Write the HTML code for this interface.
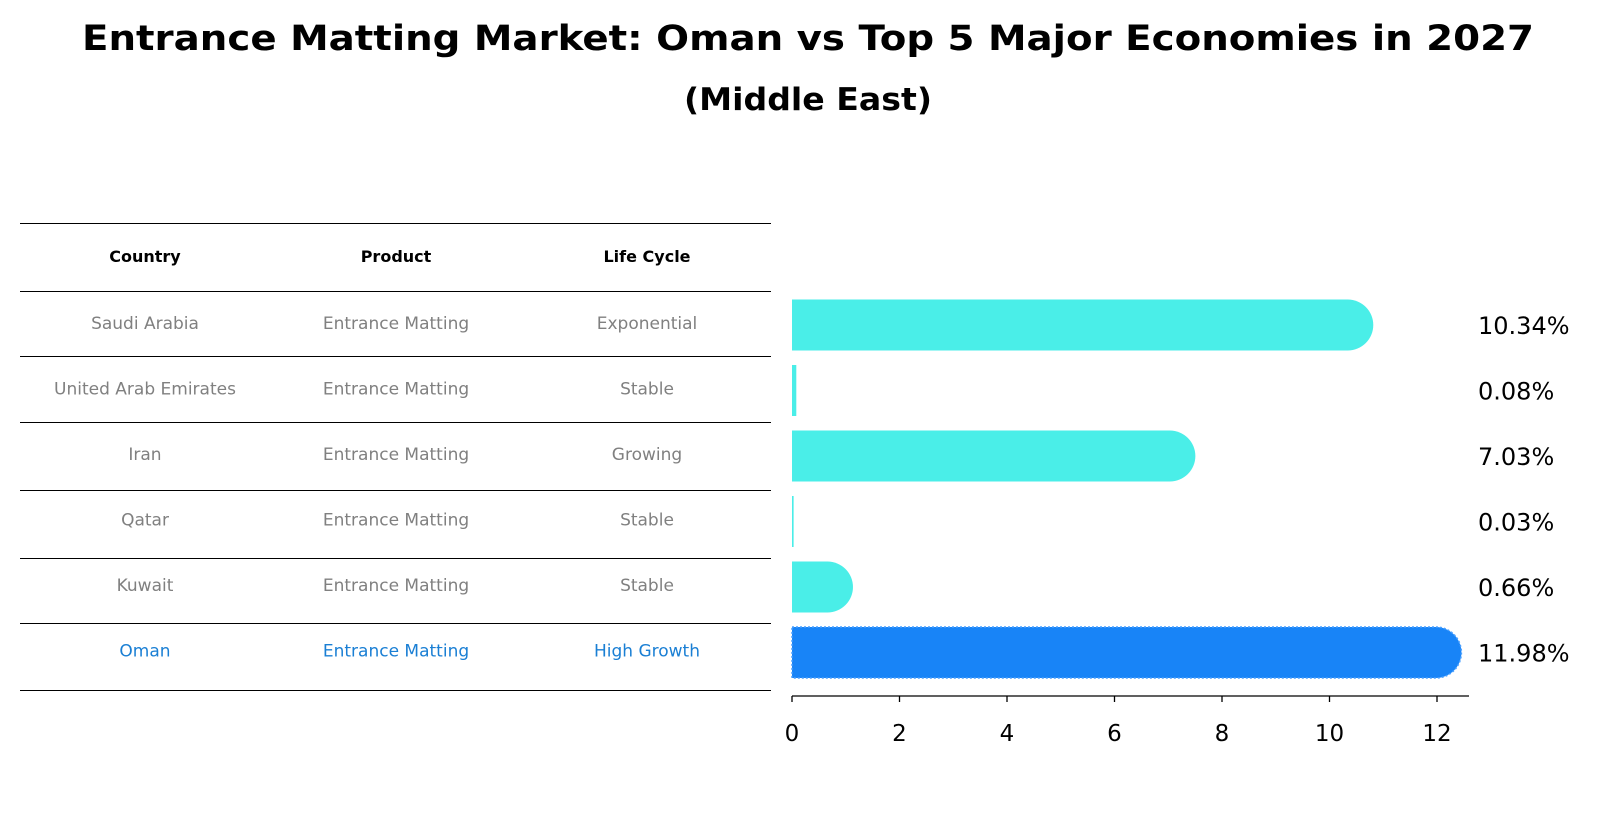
<!DOCTYPE html>
<html><head><meta charset="utf-8"><style>
body{margin:0;background:#fff;font-family:"Liberation Sans","DejaVu Sans",sans-serif;}
</style></head><body>
<svg width="1604" height="823" viewBox="0 0 1604 823" xmlns="http://www.w3.org/2000/svg" font-family="DejaVu Sans, Liberation Sans, sans-serif">
<text x="808" y="50" text-anchor="middle" font-size="35" font-weight="bold" textLength="1452" lengthAdjust="spacingAndGlyphs">Entrance Matting Market: Oman vs Top 5 Major Economies in 2027</text>
<text x="808" y="110" text-anchor="middle" font-size="31" font-weight="bold" textLength="248" lengthAdjust="spacingAndGlyphs">(Middle East)</text>
<g id="table"></g>
<g id="bars"></g>
</svg>
<script>
const countries=["Saudi Arabia","United Arab Emirates","Iran","Qatar","Kuwait","Oman"];
const products=["Entrance Matting","Entrance Matting","Entrance Matting","Entrance Matting","Entrance Matting","Entrance Matting"];
const lifecycles=["Exponential","Stable","Growing","Stable","Stable","High Growth"];
const values=[10.34,0.08,7.03,0.03,0.66,11.98];
const ticks=[0,2,4,6,8,10,12];
const NS="http://www.w3.org/2000/svg";
const x0=792,pxPerUnit=53.75;
const xs=v=>x0+v*pxPerUnit;
const rowY=i=>325+i*65.5;
function mk(tag,attrs,parent){const e=document.createElementNS(NS,tag);for(const k in attrs)e.setAttribute(k,attrs[k]);parent.appendChild(e);return e;}
const tb=document.getElementById('table');
const lines=[223,291,356,422,490,558,623,690];
lines.forEach(y=>{const l=mk('line',{x1:20,x2:771,y1:y+0.5,y2:y+0.5,stroke:'#000','stroke-width':1,'shape-rendering':'crispEdges'},tb);

});
const colX=[145,396,647];
["Country","Product","Life Cycle"].forEach((h,j)=>{const t=mk('text',{x:colX[j],y:262,'text-anchor':'middle','font-size':16,'font-weight':'bold'},tb);t.textContent=h;

});
countries.forEach((c,i)=>{const cells=[c,products[i],lifecycles[i]];const col=i===5?'#1a7fd4':'#808080';
cells.forEach((s,j)=>{const t=mk('text',{x:colX[j],y:rowY(i)+4,'text-anchor':'middle','font-size':17,fill:col},tb);t.textContent=s;

});});
const bg=document.getElementById('bars');
values.forEach((v,i)=>{const y=rowY(i),h=51,r=h/2;const w=xs(v)-x0;const isO=i===5;const fill=isO?'#1884f7':'#4aeee8';
const g=mk('g',{},bg);


if(v>0.3){mk('rect',{x:x0,y:y-r,width:w,height:h,fill:fill},g);mk('circle',{cx:xs(v),cy:y,r:r,fill:fill},g);}
else{mk('rect',{x:x0,y:y-r,width:Math.max(w,1.5),height:h,fill:fill},g);}
if(isO){mk('path',{d:`M${x0} ${y-r}H${xs(v)}A${r} ${r} 0 0 1 ${xs(v)} ${y+r}H${x0}Z`,fill:'none',stroke:'#4aa0ff','stroke-width':1.5,'stroke-dasharray':'2 2'},g);}
const t=mk('text',{x:1478,y:y+9,'font-size':24},bg);t.textContent=v.toFixed(2)+'%';

});
const ax=mk('line',{x1:x0,x2:1469,y1:696,y2:696,stroke:'#000','stroke-width':1.3},bg);


ticks.forEach(tv=>{mk('line',{x1:xs(tv),x2:xs(tv),y1:696,y2:702,stroke:'#000','stroke-width':1.3},bg);
const t=mk('text',{x:xs(tv),y:741,'text-anchor':'middle','font-size':23},bg);t.textContent=tv;

});
</script>
</body></html>
